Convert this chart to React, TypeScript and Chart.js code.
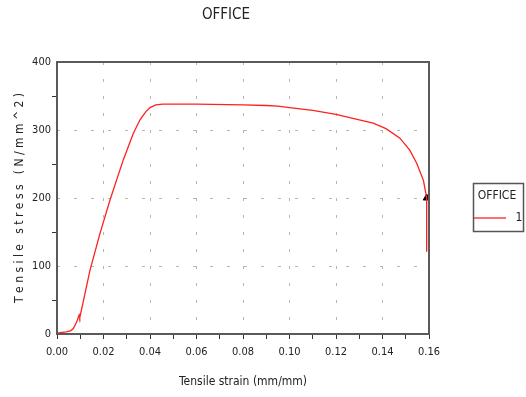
import React, { useEffect, useRef } from "react";
import { Chart, registerables } from "chart.js";

Chart.register(...registerables);

const chartTitle = "OFFICE";
const seriesName = "1";
const xTitle = "Tensile strain (mm/mm)";
const yTitle = "T e n s i l e   s t r e s s   ( N / m m ^ 2 )";

const strain = [
  0, 0.0013, 0.004, 0.006, 0.007, 0.0085, 0.0095, 0.0098, 0.0105, 0.0142, 0.0185, 0.0228,
  0.0285, 0.0328, 0.0357, 0.038, 0.04, 0.0425, 0.0455, 0.06, 0.08, 0.09, 0.095, 0.1, 0.11,
  0.12, 0.13, 0.136, 0.1415, 0.1475, 0.1518, 0.1547, 0.1576, 0.159, 0.159,
];
const stress = [
  1, 2, 3, 5, 8, 18, 28, 24, 35, 94, 148, 197, 256, 295, 315, 326, 333, 337, 338, 338, 337,
  336, 335, 333, 329, 323, 315, 310, 302, 288, 270, 251, 226, 200, 121,
];
const markerStrain = [0.159];
const markerStress = [200];

const xTicksMajor = [0, 0.02, 0.04, 0.06, 0.08, 0.1, 0.12, 0.14, 0.16];
const yTicksMajor = [0, 100, 200, 300, 400];

const FONT = "'Liberation Sans Narrow', 'DejaVu Sans Condensed', 'Arial Narrow', sans-serif";

const isMajor = (v: number, list: number[]) => list.some((m) => Math.abs(m - v) < 1e-9);

export default function App() {
  const ref = useRef<HTMLCanvasElement | null>(null);

  useEffect(() => {
    if (!ref.current) return;

    const framePlugin = {
      id: "frame",
      afterDatasetsDraw(chart: any) {
        const { ctx, chartArea } = chart;
        const { left, right, top, bottom } = chartArea;
        ctx.save();
        ctx.strokeStyle = "#5a5a5a";
        ctx.lineWidth = 2;
        ctx.beginPath();
        ctx.moveTo(left, top);
        ctx.lineTo(right, top);
        ctx.lineTo(right, bottom);
        ctx.lineTo(left, bottom);
        ctx.closePath();
        ctx.stroke();
        ctx.restore();
      },
      afterDraw(chart: any) {
        const { ctx } = chart;
        ctx.save();
        ctx.fillStyle = "#222";
        ctx.font = `15px ${FONT}`;
        ctx.textAlign = "center";
        ctx.textBaseline = "middle";
        ctx.fillText(chartTitle, 226, 15);
        ctx.strokeStyle = "#555";
        ctx.lineWidth = 1.5;
        ctx.strokeRect(473.5, 183.5, 50, 48);
        ctx.font = `12px ${FONT}`;
        ctx.fillText(chartTitle, 497, 196);
        const ds = chart.data.datasets[0];
        ctx.strokeStyle = ds.borderColor;
        ctx.lineWidth = 1.3;
        ctx.beginPath();
        ctx.moveTo(474, 218);
        ctx.lineTo(506, 218);
        ctx.stroke();
        ctx.fillText(ds.label, 519, 218);
        ctx.restore();
      },
    };

    const chart = new Chart(ref.current, {
      type: "line",
      data: {
        datasets: [
          {
            label: seriesName,
            data: strain.map((x, i) => ({ x, y: stress[i] })),
            borderColor: "#ff2020",
            borderWidth: 1.3,
            pointRadius: 0,
            tension: 0,
            fill: false,
          },
          {
            label: "marker",
            data: markerStrain.map((x, i) => ({ x, y: markerStress[i] })),
            showLine: false,
            pointStyle: "triangle",
            pointRadius: 4,
            backgroundColor: "#000",
            borderColor: "#000",
          },
        ],
      },
      options: {
        animation: false,
        responsive: false,
        layout: { padding: { left: 0, right: 97, top: 62, bottom: 0 } },
        plugins: { legend: { display: false }, tooltip: { enabled: false }, title: { display: false } },
        scales: {
          x: {
            type: "linear",
            min: 0,
            max: 0.16,
            afterFit: (s: any) => {
              s.height = 63;
            },
            afterBuildTicks: (s: any) => {
              const t = [];
              for (let i = 0; i <= 16; i++) t.push({ value: i / 100 });
              s.ticks = t;
            },
            border: { display: false, dash: [3, 14] },
            grid: {
              color: (c: any) => {
                const v = c.tick ? c.tick.value : -1;
                return isMajor(v, xTicksMajor) && v > 0.001 && v < 0.159 ? "#b8b8a8" : "rgba(0,0,0,0)";
              },
              tickColor: "#333",
              tickLength: 5,
              lineWidth: 1,
            } as any,
            ticks: {
              autoSkip: false,
              maxRotation: 0,
              padding: 7,
              color: "#222",
              font: { family: FONT, size: 11 },
              callback: (v: any) => (isMajor(Number(v), xTicksMajor) ? Number(v).toFixed(2) : ""),
            },
            title: {
              display: true,
              text: xTitle,
              color: "#222",
              font: { family: FONT, size: 12 },
              padding: { top: 0, bottom: 8 },
            },
          },
          y: {
            type: "linear",
            min: 0,
            max: 400,
            afterFit: (s: any) => {
              s.width = 57;
            },
            afterBuildTicks: (s: any) => {
              const t = [];
              for (let i = 0; i <= 8; i++) t.push({ value: i * 50 });
              s.ticks = t;
            },
            border: { display: false, dash: [3, 14] },
            grid: {
              color: (c: any) => {
                const v = c.tick ? c.tick.value : -1;
                return isMajor(v, yTicksMajor) && v > 0 && v < 400 ? "#b8b8a8" : "rgba(0,0,0,0)";
              },
              tickColor: (c: any) => (c.tick && isMajor(c.tick.value, yTicksMajor) ? "rgba(0,0,0,0)" : "#333"),
              tickLength: 5,
              lineWidth: 1,
            } as any,
            ticks: {
              autoSkip: false,
              padding: 1,
              color: "#222",
              font: { family: FONT, size: 11 },
              callback: (v: any) => (isMajor(Number(v), yTicksMajor) ? String(v) : ""),
            },
            title: {
              display: true,
              text: yTitle,
              color: "#222",
              font: { family: FONT, size: 12 },
              padding: { top: 13, bottom: 0 },
            },
          },
        },
      },
      plugins: [framePlugin],
    } as any);

    return () => chart.destroy();
  }, []);

  return (
    <div style={{ position: "fixed", left: 0, top: 0, width: 526, height: 397, background: "#fff" }}>
      <canvas ref={ref} width={526} height={397} style={{ width: 526, height: 397 }} />
    </div>
  );
}
